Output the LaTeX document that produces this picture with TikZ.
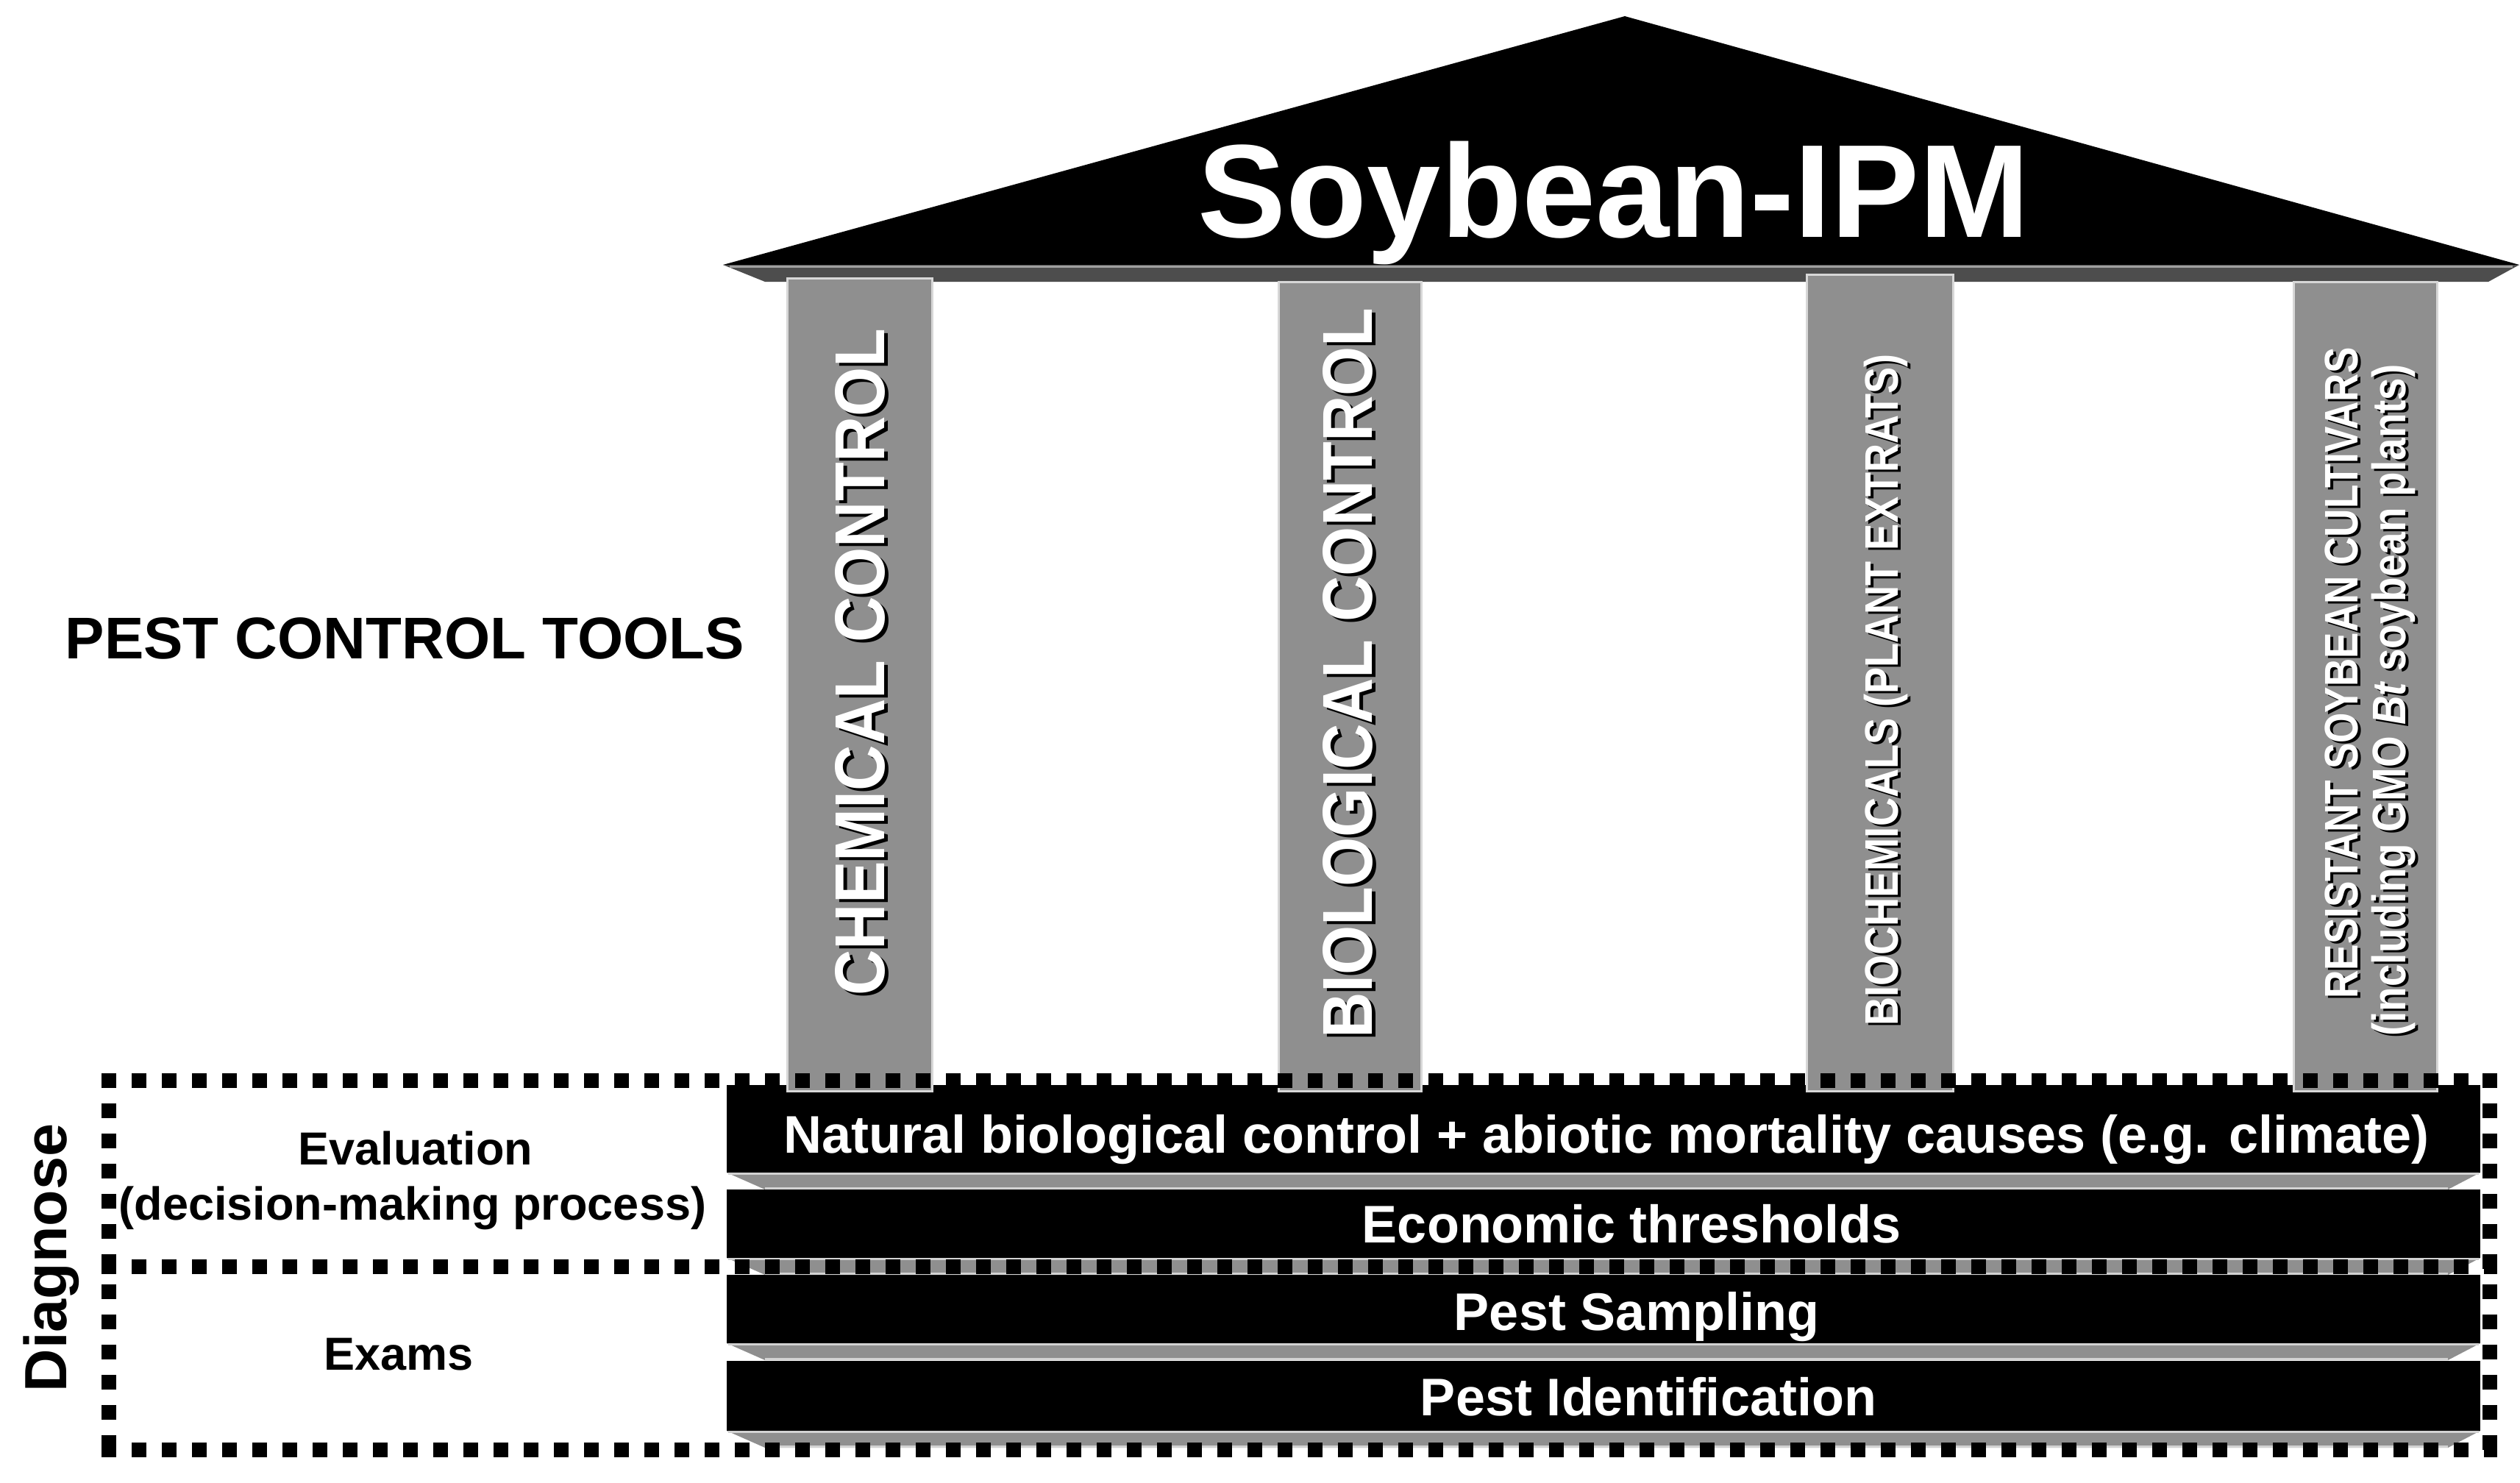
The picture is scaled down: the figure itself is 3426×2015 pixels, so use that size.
\documentclass[tikz,border=0pt]{standalone}
\usepackage{fontspec}
\setmainfont{Liberation Sans}
\usepackage{graphicx}
\definecolor{colgray}{RGB}{143,143,143}
\definecolor{coledge}{RGB}{215,215,215}
\definecolor{roofband}{RGB}{77,77,77}
\definecolor{roofline}{RGB}{160,160,160}
\definecolor{bandlight}{RGB}{210,210,210}
\tikzset{
  colbox/.style={fill=colgray, draw=coledge, line width=0.75pt},
  bandlinestyle/.style={draw=bandlight, line width=0.7pt},
  framedash/.style={line width=5pt, dash pattern=on 5pt off 5.25pt},
  bigcol/.style={rotate=90, anchor=base, inner sep=0, font=\fontsize{24}{26}\selectfont\bfseries},
  smallcol/.style={rotate=90, anchor=base, inner sep=0, font=\fontsize{16}{18}\selectfont\bfseries},
  lighttext/.style={text=white},
  shadowtext/.style={text=black},
  bartext/.style={anchor=base, inner sep=0, text=white, font=\fontsize{18}{20}\selectfont\bfseries},
  sidetext/.style={anchor=base, inner sep=0, text=black, font=\fontsize{15.75}{18}\selectfont\bfseries},
}
\begin{document}
\begin{tikzpicture}[x=0.25pt,y=-0.25pt]
\useasboundingbox (0,0) rectangle (3426,2015);

% roof
\fill[black] (983,360) -- (2209,22) -- (3425,360) -- cycle;
\fill[roofband] (983,360) -- (3425,360) -- (3383,383) -- (1040,383) -- cycle;
\draw[roofline, line width=0.6pt] (992,362.5) -- (3416,362.5);
\node[anchor=base, inner sep=0, text=white, font=\fontsize{45}{50}\selectfont\bfseries] (title) at (2194,322) {Soybean-IPM};

% bars
\fill[black] (988,1475) rectangle (3372,1594);
\fill[black] (988,1617) rectangle (3372,1710);
\fill[black] (988,1733) rectangle (3372,1826);
\fill[black] (988,1850) rectangle (3372,1945);
\foreach \t in {1594,1710,1826,1945} {
  \fill[colgray] (988,\t) -- (3372,\t) -- (3328,\t+23) -- (1040,\t+23) -- cycle;
  \draw[bandlinestyle] (990,\t+1.5) -- (3370,\t+1.5);
  \draw[bandlinestyle] (1040,\t+21.5) -- (3328,\t+21.5);
}

% columns
\draw[colbox] (1070,378) rectangle (1267,1483);
\draw[colbox] (1738,383) rectangle (1932,1483);
\draw[colbox] (2456,373) rectangle (2655,1483);
\draw[colbox] (3118,383) rectangle (3313,1483);

% column texts (shadow + white)
\node[bigcol, shadowtext] (chemS) at (1207,904) {\scalebox{0.9}[1]{CHEMICAL CONTROL}};
\node[bigcol, lighttext] (chem) at (1202,900) {\scalebox{0.9}[1]{CHEMICAL CONTROL}};
\node[bigcol, shadowtext] (bioS) at (1870,919) {\scalebox{0.9}[1]{BIOLOGICAL CONTROL}};
\node[bigcol, lighttext] (bio) at (1865,915) {\scalebox{0.9}[1]{BIOLOGICAL CONTROL}};
\node[smallcol, shadowtext] (biochemS) at (2584,941) {\scalebox{0.846}[1]{BIOCHEMICALS (PLANT EXTRATS)}};
\node[smallcol, lighttext] (biochem) at (2580,938) {\scalebox{0.846}[1]{BIOCHEMICALS (PLANT EXTRATS)}};
\node[smallcol, shadowtext] (resAS) at (3209,918) {\scalebox{0.83}[1]{RESISTANT SOYBEAN CULTIVARS}};
\node[smallcol, lighttext] (resA) at (3205,915) {\scalebox{0.83}[1]{RESISTANT SOYBEAN CULTIVARS}};
\node[smallcol, shadowtext] (resBS) at (3274,955) {\scalebox{0.856}[1]{(including GMO {\itshape Bt} soybean plants)}};
\node[smallcol, lighttext] (resB) at (3270,952) {\scalebox{0.856}[1]{(including GMO {\itshape Bt} soybean plants)}};

% bar texts
\node[bartext] (natural) at (2184,1567) {Natural biological control + abiotic mortality causes (e.g. climate)};
\node[bartext] (econ) at (2218,1689) {Economic thresholds};
\node[bartext] (sampling) at (2225,1808) {Pest Sampling};
\node[bartext] (ident) at (2241,1924) {Pest Identification};

% dashed frame
\draw[framedash] (138,1469) -- (3395,1469);
\draw[framedash] (138,1722) -- (3395,1722);
\draw[framedash] (138,1971) -- (3395,1971);
\draw[framedash] (148,1459) -- (148,1981);
\draw[framedash] (3385,1459) -- (3385,1981);

% left texts
\node[anchor=base west, inner sep=0, font=\fontsize{20}{24}\selectfont\bfseries] (tools) at (88,895) {PEST CONTROL TOOLS};
\node[sidetext] (eval) at (565,1583) {Evaluation};
\node[sidetext] (decision) at (561,1658) {(decision-making process)};
\node[sidetext] (exams) at (542,1862) {Exams};
\node[rotate=90, anchor=base, inner sep=0, font=\fontsize{20.25}{24}\selectfont\bfseries] (diag) at (90,1710) {Diagnose};
\end{tikzpicture}
\end{document}
